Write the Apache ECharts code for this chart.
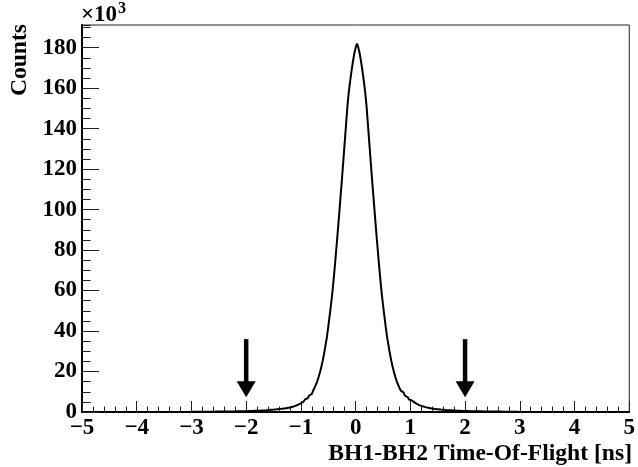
<!DOCTYPE html>
<html><head><meta charset="utf-8">
<script src="https://cdn.jsdelivr.net/npm/echarts@6/dist/echarts.min.js"></script>
<style>html,body{margin:0;padding:0;background:#fff}#c{width:638px;height:467px}</style>
</head><body><div id="c"></div>
<script>
// Histogram: BH1-BH2 time-of-flight, counts in units of 10^3
const binStart = -3;      // ns, lower edge of first bin
const binWidth = 0.025;   // ns
const counts = [
0.1,0.11,0.11,0.12,0.12,0.13,0.13,0.14,0.14,0.15,0.15,0.16,0.16,0.17,0.17,0.18,0.18,0.19,0.19,0.2,0.2,0.21,
0.22,0.23,0.24,0.25,0.26,0.27,0.28,0.29,0.3,0.31,0.32,
0.33,0.35,0.36,0.37,0.38,0.4,0.41,0.43,0.45,
0.47,0.49,0.51,0.54,0.57,0.6,0.63,0.66,0.7,0.74,0.78,0.82,0.86,0.9,0.95,1.0,
1.07,1.13,1.19,1.25,1.33,1.4,1.5,1.55,1.65,1.75,1.85,1.95,2.1,2.25,2.4,2.6,2.8,3.05,3.3,3.6,3.9,4.3,4.75,5.2,5.7,6.2,6.8,7.4,8.1,8.9,9.7,
10.6,12.0,13.5,15.3,17.4,19.8,22.5,25.5,29,33,37,42,47.5,53,59,66,73.5,81.5,89.5,98,106.5,115,124,133,142,151,158,163.5,168.5,173,177,180,
182,
180,177,173,168.5,163.5,158,151,142,133,124,115,106.5,98,89.5,81.5,73.5,66,59,53,47.5,42,37,33,29,25.5,22.5,19.8,17.4,15.3,13.5,12.0,10.6,
9.7,8.9,8.1,7.4,6.8,6.2,5.7,5.2,4.75,4.3,3.9,3.6,3.3,3.05,2.8,2.6,2.4,2.25,2.1,1.95,1.85,1.75,1.65,1.55,1.5,1.4,1.33,1.25,1.19,1.13,1.07,
1.0,0.95,0.9,0.86,0.82,0.78,0.74,0.7,0.66,0.63,0.6,0.57,0.54,0.51,0.49,0.47,
0.45,0.43,0.41,0.4,0.38,0.37,0.36,0.35,0.33,
0.32,0.31,0.3,0.29,0.28,0.27,0.26,0.25,0.24,0.23,0.22,
0.21,0.2,0.2,0.19,0.19,0.18,0.18,0.17,0.17,0.16,0.16,0.15,0.15,0.14,0.14,0.13,0.13,0.12,0.12
];
// Cut arrows: x position (ns), arrow top and tip (10^3 counts)
const arrowX = [-2, 2];
const arrowTop = 36;
const arrowTip = 7.3;
// Axes
const xMin = -5, xMax = 5, xStep = 1;
const yMin = 0, yMax = 191.2, yStep = 20, yMinorStep = 5;
const xTitle = 'BH1-BH2 Time-Of-Flight [ns]';
const yTitle = 'Counts';

const FONT = '"Liberation Serif","Times New Roman",serif';
const histData = counts.map((v, i) => [binStart + binWidth * (i + 0.5), v]);
const arrowData = arrowX.map(x => [x, arrowTop, arrowTip]);
const minus = v => String(v).replace('-', '\u2212');

const chart = echarts.init(document.getElementById('c'), null, {renderer: 'canvas'});
chart.setOption({
  animation: false,
  backgroundColor: '#fff',
  grid: {left: 82, right: 4, top: 25, bottom: 55, show: true, borderColor: '#222', borderWidth: 1, backgroundColor: 'transparent'},
  xAxis: {
    type: 'value', min: xMin, max: xMax, interval: xStep,
    axisLine: {show: true, onZero: false, lineStyle: {color: '#000', width: 2}},
    axisTick: {show: true, inside: true, length: 11, lineStyle: {color: '#222', width: 1}},
    minorTick: {show: true, splitNumber: 5, length: 5.5, lineStyle: {color: '#222', width: 1}},
    splitLine: {show: false},
    axisLabel: {color: '#000', fontFamily: FONT, fontWeight: 'bold', fontSize: 23, margin: 5, formatter: minus}
  },
  yAxis: [{
    type: 'value', min: yMin, max: yMax, interval: yStep, position: 'left', offset: 0,
    axisLine: {show: true, onZero: false, lineStyle: {color: '#000', width: 2}},
    axisTick: {show: true, inside: true, length: 17, lineStyle: {color: '#222', width: 1}},
    splitLine: {show: false},
    axisLabel: {color: '#000', fontFamily: FONT, fontWeight: 'bold', fontSize: 23, margin: 5, showMaxLabel: false, formatter: minus}
  }, {
    type: 'value', min: yMin, max: yMax, interval: yMinorStep, position: 'left', offset: 0,
    axisLine: {show: false, onZero: false},
    axisTick: {show: true, inside: true, length: 8.7, lineStyle: {color: '#222', width: 1}},
    splitLine: {show: false},
    axisLabel: {show: false}
  }],
  series: [{
    type: 'line', step: 'middle', data: histData, showSymbol: false, symbol: 'none',
    lineStyle: {color: '#000', width: 2}, z: 3
  }, {
    type: 'custom', data: arrowData, encode: {x: 0, y: [1, 2]}, z: 4,
    renderItem: function (params, api) {
      const x = api.value(0);
      const top = api.coord([x, api.value(1)]);
      const tip = api.coord([x, api.value(2)]);
      const headH = 16, headW = 19, shaftW = 4.5;
      return {
        type: 'group',
        children: [{
          type: 'rect',
          shape: {x: top[0] - shaftW / 2, y: top[1], width: shaftW, height: tip[1] - headH - top[1] + 1},
          style: {fill: '#000'}
        }, {
          type: 'polygon',
          shape: {points: [[tip[0] - headW / 2, tip[1] - headH], [tip[0] + headW / 2, tip[1] - headH], [tip[0], tip[1]]]},
          style: {fill: '#000'}
        }]
      };
    }
  }],
  graphic: [{
    type: 'text', x: 632, y: 454,
    style: {text: xTitle, font: 'bold 23.6px ' + FONT, fill: '#000', align: 'right', verticalAlign: 'middle'}
  }, {
    type: 'text', x: 20, y: 24, rotation: Math.PI / 2,
    style: {text: yTitle, font: 'bold 23.6px ' + FONT, fill: '#000', align: 'right', verticalAlign: 'middle'}
  }, {
    type: 'text', x: 81, y: 15,
    style: {text: '\u00d710', font: 'bold 23px ' + FONT, fill: '#000', align: 'left', verticalAlign: 'middle'}
  }, {
    type: 'text', x: 118, y: 9,
    style: {text: '3', font: 'bold 16px ' + FONT, fill: '#000', align: 'left', verticalAlign: 'middle'}
  }]
});
</script>
</body></html>
